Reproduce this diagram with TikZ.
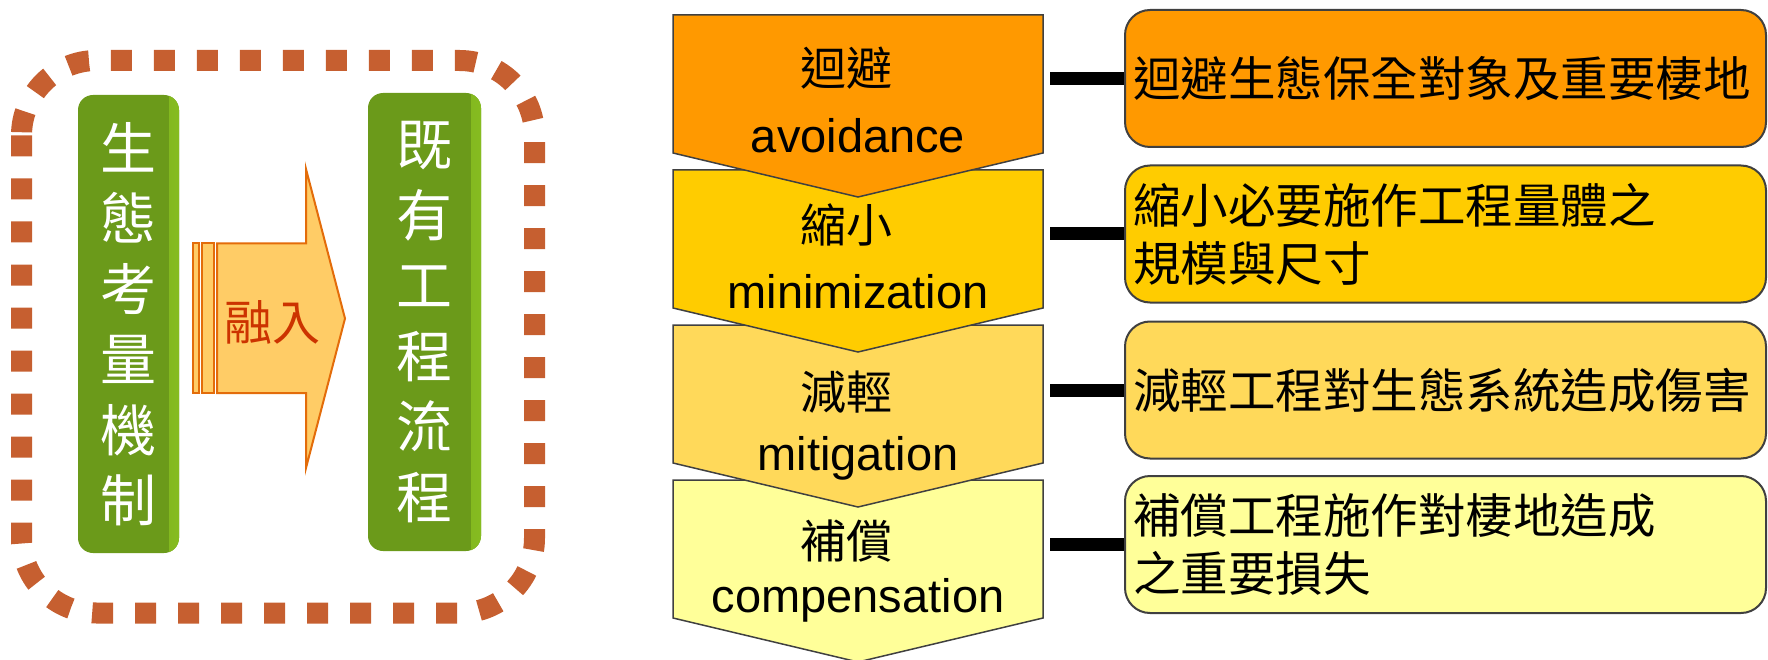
\documentclass[tikz,border=0pt]{standalone}
\usepackage{fontspec}
\setmainfont{Liberation Sans}
\newfontfamily\cjk{Noto Sans CJK TC}
\definecolor{frameC}{HTML}{C65F30}
\definecolor{gDark}{HTML}{6B9A1A}
\definecolor{gLight}{HTML}{86BC20}
\definecolor{arrowFill}{HTML}{FFCC66}
\definecolor{arrowLine}{HTML}{E36C0A}
\definecolor{mergeC}{HTML}{CC3300}
\definecolor{stageA}{HTML}{FF9900}
\definecolor{stageB}{HTML}{FFCC00}
\definecolor{stageC}{HTML}{FFD95A}
\definecolor{stageD}{HTML}{FFFF99}
\definecolor{edgeC}{HTML}{404040}
\tikzset{
  greenbox/.style={draw=none, fill=gDark, rounded corners=15pt, minimum height=458pt,
    inner sep=0pt, text=white, align=center, font=\cjk\fontsize{56}{70.5}\selectfont,
    path picture={\shade[sharp corners, left color=gDark, right color=gLight]
      ([xshift=-10pt]path picture bounding box.north east) rectangle (path picture bounding box.south east);}},
  chevron/.style={draw=edgeC, line width=1.5pt},
  stagetitle/.style={font=\cjk\fontsize{46}{46}\selectfont, inner sep=0pt},
  stageword/.style={font=\fontsize{47}{47}\selectfont, inner sep=0pt, anchor=base},
  actionbox/.style={draw=edgeC, line width=2pt, rounded corners=25pt, minimum width=641pt,
    minimum height=137pt, text width=625pt, inner xsep=8pt, inner ysep=0pt, align=left,
    font=\cjk\fontsize{47.5}{58}\selectfont},
  link/.style={line width=13pt},
}
\begin{document}
\begin{tikzpicture}[x=1pt, y=-1pt]
    \useasboundingbox (0, 0) rectangle (1768, 660);
    % dashed frame round the left part
    \draw [frameC, line width=21pt, dash pattern=on 21pt off 22pt, rounded corners=75pt] (21.5, 60.5) rectangle (534.5, 613);
    \node [greenbox, minimum width=101pt] (eco) at (128.5, 324) {生\\態\\考\\量\\機\\制};
    \node [greenbox, minimum width=113pt] (works) at (424.5, 322) {既\\有\\工\\程\\流\\程};
    % block arrow
    \draw [arrowLine, fill=arrowFill, line width=2pt] (193, 243.4) rectangle (199, 393);
    \draw [arrowLine, fill=arrowFill, line width=2pt] (202, 243.4) rectangle (213.6, 393);
    \draw [arrowLine, fill=arrowFill, line width=2pt] (217, 243.4) -- (306, 243.4) -- (306, 169) -- (345, 318.5) -- (306, 468) -- (306, 393) -- (217, 393) -- cycle;
    \node [font=\cjk\fontsize{48}{48}\selectfont, text=mergeC, inner sep=0pt] (merge) at (272, 322) {融入};
    % chevrons, lowest first
    \foreach \ytop/\col in {480/stageD, 325/stageC, 170/stageB, 15/stageA}
        \draw [chevron, fill=\col] (673, \ytop) -- (1043, \ytop) -- (1043, \ytop+138) -- (858, \ytop+182) -- (673, \ytop+138) -- cycle;
    \node [stagetitle] (avoidT) at (846, 68) {迴避};
    \node [stageword] (avoidE) at (858, 153) {avoidance};
    \node [stagetitle] (minT) at (846, 225) {縮小};
    \node [stageword] (minE) at (858, 308) {minimization};
    \node [stagetitle] (mitT) at (846, 392) {減輕};
    \node [stageword] (mitE) at (858, 470) {mitigation};
    \node [stagetitle] (compT) at (846, 541) {補償};
    \node [stageword] (compE) at (858, 612) {compensation};
    % actions
    \node [actionbox, fill=stageA] (actA) at (1445.5, 78.5) {迴避生態保全對象及重要棲地};
    \node [actionbox, fill=stageB] (actB) at (1445.5, 234) {縮小必要施作工程量體之\\規模與尺寸};
    \node [actionbox, fill=stageC] (actC) at (1445.5, 390) {減輕工程對生態系統造成傷害};
    \node [actionbox, fill=stageD] (actD) at (1445.5, 544.5) {補償工程施作對棲地造成\\之重要損失};
    \foreach \n/\y in {A/78.5, B/234, C/390, D/544.5} {
        \coordinate (tie\n) at (1050, \y);
        \draw [link] (tie\n) -- (act\n.west);
    }
\end{tikzpicture}
\end{document}
